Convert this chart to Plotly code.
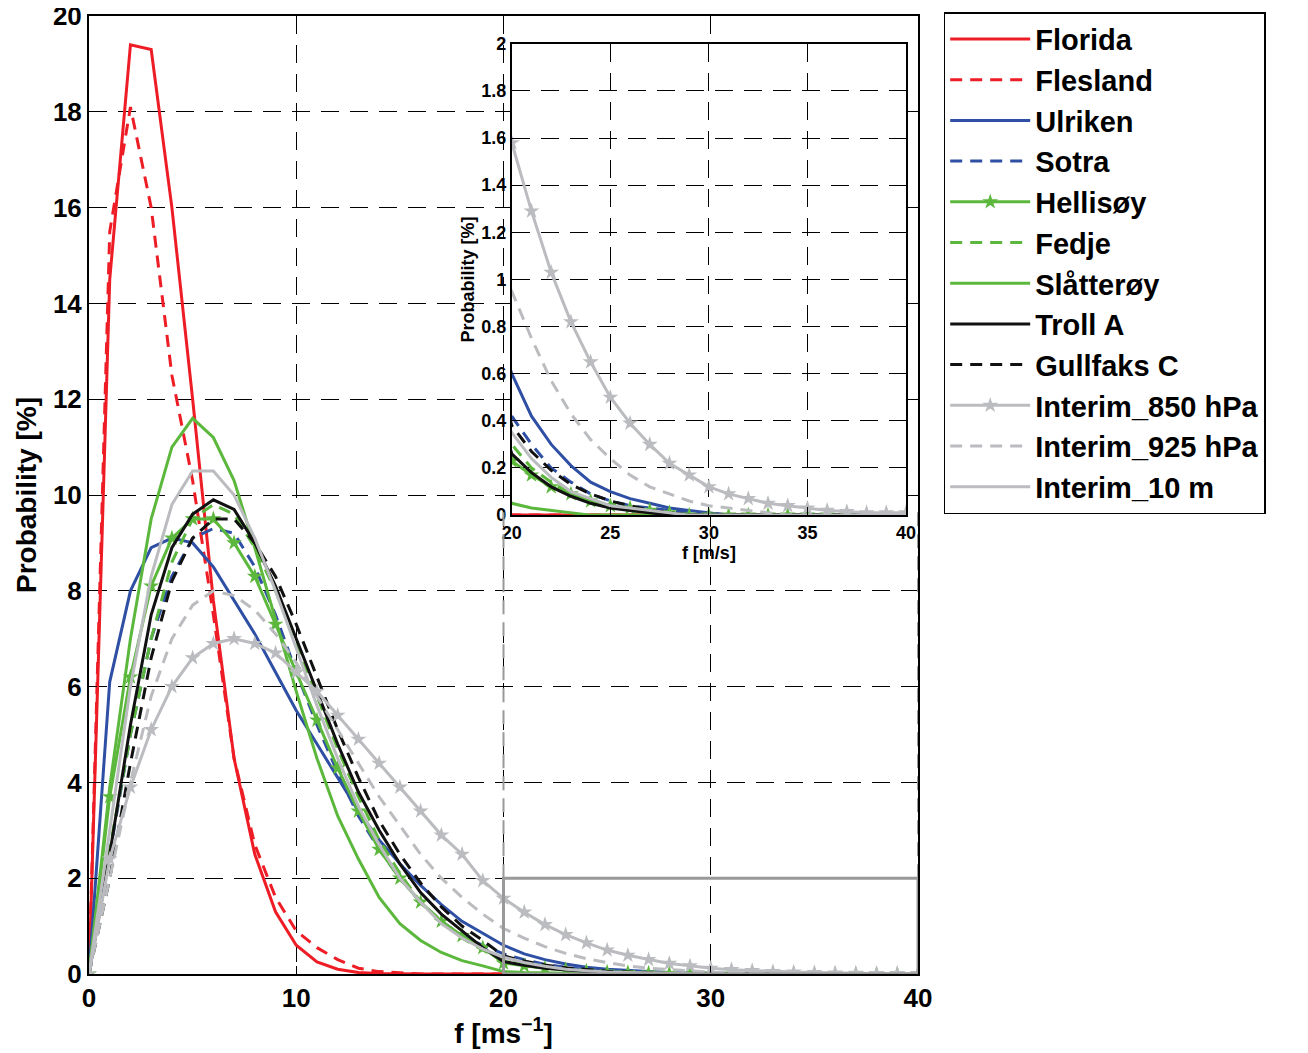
import plotly.graph_objects as go

x = list(range(0, 41))
def pad(v): return v + [0.0] * (41 - len(v))

florida = pad([0,14.5,19.4,19.3,16,12,7.8,4.5,2.5,1.3,0.6,0.25,0.1,0.03,0.01])
flesland = pad([0,15.5,18.1,16,12.5,10.3,7.5,4.5,2.7,1.6,0.9,0.55,0.3,0.12,0.05,0.02])
ulriken = pad([0,6.1,8.0,8.9,9.1,9.0,8.5,7.8,7.1,6.3,5.5,4.8,4.1,3.4,2.8,2.3,1.85,1.45,1.1,0.85,0.6,0.42,0.3,0.21,0.14,0.1,0.07,0.05,0.03,0.02,0.01])
sotra = pad([0,2.5,5.0,7.0,8.3,9.1,9.3,9.2,8.5,7.5,6.3,5.2,4.2,3.3,2.6,2.0,1.5,1.1,0.8,0.6,0.42,0.3,0.2,0.14,0.09,0.06,0.04,0.03,0.02,0.01,0.01])
hellisoy = pad([0,3.7,6.2,8.1,9.1,9.5,9.5,9.0,8.3,7.3,6.3,5.3,4.3,3.4,2.6,2.0,1.5,1.1,0.8,0.55,0.23,0.17,0.12,0.09,0.06,0.04,0.03,0.02,0.01])
fedje = pad([0,2.6,5.0,7.0,8.6,9.5,9.8,9.6,8.9,8.0,6.9,5.8,4.7,3.7,2.8,2.1,1.5,1.1,0.75,0.5,0.3,0.2,0.14,0.09,0.06,0.04,0.02,0.01])
slatteroy = pad([0,3.9,7.0,9.5,11.0,11.6,11.2,10.3,8.9,7.4,5.9,4.5,3.3,2.4,1.6,1.05,0.7,0.45,0.28,0.17,0.05,0.03,0.02,0.01])
troll = pad([0,2.5,5.2,7.5,8.9,9.6,9.9,9.7,9.0,8.1,7.0,5.9,4.8,3.8,3.0,2.3,1.7,1.25,0.9,0.55,0.26,0.18,0.12,0.08,0.05,0.03,0.02,0.01])
gullfaks = pad([0,2.0,4.4,6.6,8.2,9.1,9.5,9.5,9.0,8.3,7.3,6.2,5.1,4.1,3.2,2.5,1.9,1.4,1.0,0.7,0.38,0.27,0.19,0.13,0.09,0.06,0.04,0.02,0.01])
i850 = pad([0,2.4,3.9,5.1,6.0,6.6,6.9,7.0,6.9,6.7,6.3,5.9,5.4,4.9,4.4,3.9,3.4,2.9,2.5,1.95,1.58,1.29,1.03,0.82,0.65,0.5,0.39,0.3,0.22,0.17,0.12,0.09,0.07,0.05,0.04,0.03,0.02,0.015,0.01,0.01,0.01])
i925 = pad([0,2.0,4.0,5.8,7.0,7.7,8.0,7.9,7.6,7.1,6.5,5.8,5.1,4.4,3.7,3.1,2.5,2.0,1.6,1.25,0.95,0.75,0.57,0.43,0.32,0.24,0.17,0.12,0.09,0.06,0.04,0.03,0.02,0.01])
i10 = pad([0,3.0,6.0,8.3,9.8,10.5,10.5,10.0,9.1,8.0,6.8,5.6,4.5,3.5,2.7,2.0,1.5,1.05,0.75,0.52,0.35,0.24,0.16,0.1,0.07,0.04,0.03,0.02,0.01])

RED, BLUE, GREEN, BLACK, GRAY = "#ee1c25", "#2e4fa3", "#5cb83c", "#111111", "#bbbcbf"
LDASH = "12px,8px"
series = [
    ("Florida", florida, RED, "solid", False),
    ("Flesland", flesland, RED, LDASH, False),
    ("Ulriken", ulriken, BLUE, "solid", False),
    ("Sotra", sotra, BLUE, LDASH, False),
    ("Hellisøy", hellisoy, GREEN, "solid", True),
    ("Fedje", fedje, GREEN, LDASH, False),
    ("Slåtterøy", slatteroy, GREEN, "solid", False),
    ("Troll A", troll, BLACK, "solid", False),
    ("Gullfaks C", gullfaks, BLACK, LDASH, False),
    ("Interim_850 hPa", i850, GRAY, "solid", True),
    ("Interim_925 hPa", i925, GRAY, LDASH, False),
    ("Interim_10 m", i10, GRAY, "solid", False),
]

fig = go.Figure()
for name, y, c, dash, mk in series:
    for ax, show in (("", True), ("2", False)):
        fig.add_trace(go.Scatter(
            x=x, y=y, name=name, showlegend=show, legendgroup=name,
            xaxis="x" + ax, yaxis="y" + ax,
            mode="lines+markers" if mk else "lines",
            line=dict(color=c, dash=dash, width=3),
            marker=dict(symbol="star", size=12, color=c) if mk else None,
        ))

fig.add_shape(type="rect", xref="x", yref="y", x0=20, x1=40, y0=0, y1=2,
              line=dict(color="#999999", width=3))
for xv in (20, 40):
    fig.add_shape(type="line", xref="x", yref="y", x0=xv, x1=xv, y0=2, y1=9.65,
                  line=dict(color="#999999", width=2, dash="14px,8px"))

tickfont = dict(family="Liberation Sans", size=26, color="black", weight="bold")
grid = dict(showgrid=True, gridcolor="black", griddash="18px,11px", gridwidth=1.2,
            showline=True, linecolor="black", linewidth=2, mirror=True,
            ticks="inside", ticklen=8, tickcolor="black", zeroline=False,
            automargin=False, ticklabeloverflow="allow")
fig.update_layout(
    width=1308, height=1053, plot_bgcolor="white", paper_bgcolor="white",
    margin=dict(l=81, r=398, t=8, b=87, autoexpand=False),
    font=dict(family="Liberation Sans", color="black"),
    xaxis=dict(range=[0, 40], tickvals=[0, 10, 20, 30, 40], tickfont=tickfont,
               title=dict(text="<b>f [ms<sup>−1</sup>]</b>", font=dict(size=28), standoff=2), **grid),
    yaxis=dict(range=[0, 20], dtick=2, tickfont=tickfont,
               title=dict(text="<b>Probability [%]</b>", font=dict(size=28), standoff=8), **grid),
    xaxis2=dict(domain=[0.510, 0.9855], anchor="y2", range=[20, 40], dtick=5,
                tickfont=dict(size=18, weight="bold"), title=dict(text="<b>f [m/s]</b>", font=dict(size=18), standoff=2), **grid),
    yaxis2=dict(domain=[0.479, 0.971], anchor="x2", range=[0, 2], dtick=0.2,
                tickfont=dict(size=18, weight="bold"), title=dict(text="<b>Probability [%]</b>", font=dict(size=18), standoff=2), **grid),
    legend=dict(x=1.031, y=1.004, xanchor="left", yanchor="top",
                bordercolor="black", borderwidth=1.5, bgcolor="white",
                font=dict(size=29, family="Liberation Sans", weight="bold"), tracegroupgap=0,
                itemwidth=80),
)
fig.write_html("out.html")
